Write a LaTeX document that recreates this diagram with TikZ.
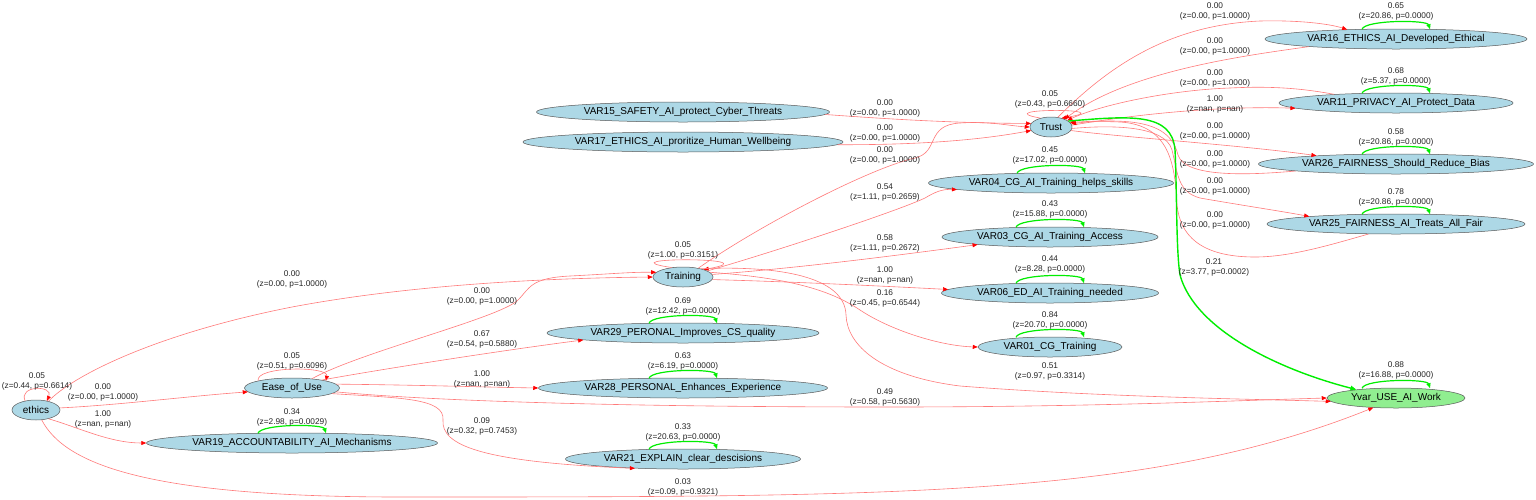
\documentclass[tikz,border=0pt]{standalone}
\usepackage{fontspec}
\setmainfont{Liberation Sans}
\usetikzlibrary{arrows.meta,shapes.geometric}
\definecolor{lightbluec}{HTML}{ADD8E6}
\definecolor{lightgreenc}{HTML}{90EE90}
\definecolor{redline}{HTML}{FF7A7A}
\definecolor{greenline}{HTML}{00EE00}
\newcommand{\mynodefont}{\fontsize{10pt}{12pt}\selectfont}
\newcommand{\mylabfont}{\fontsize{8.3pt}{10pt}\selectfont}
\newcommand{\greenloop}[1]{\draw[gloop] ([xshift=-34pt,yshift=-0.5pt]#1.north) .. controls ([xshift=-31pt,yshift=9pt]#1.north) and ([xshift=31pt,yshift=9pt]#1.north) .. ([xshift=34pt,yshift=-0.5pt]#1.north);}
\tikzset{
  nd/.style={ellipse, draw=black!65, line width=0.5pt, fill=lightbluec, inner sep=0pt, minimum height=20pt, font=\mynodefont, text=black},
  lab/.style={font=\mylabfont, align=center, text=black!85, inner sep=0pt},
  redge/.style={draw=redline, line width=0.6pt, -{Triangle[length=5pt,width=4pt,color=red]}},
  gloop/.style={draw=greenline, line width=1.2pt, -{Triangle[length=5pt,width=4pt,color=greenline]}},
  gedge/.style={draw=greenline, line width=1.4pt, -{Triangle[length=6pt,width=4.5pt,color=greenline]}}
}
\begin{document}
\begin{tikzpicture}[x=1pt,y=-1pt]
\fill[white] (0,0) rectangle (1536,499);
\useasboundingbox (0,0) rectangle (1536,499);

% nodes
\node[nd, minimum width=48pt] (ethics) at (36,410) {ethics};
\node[nd, minimum width=95pt] (ease) at (292,388) {Ease\_of\_Use};
\node[nd, minimum width=291pt] (v19) at (292,443) {VAR19\_ACCOUNTABILITY\_AI\_Mechanisms};
\node[nd, minimum width=60pt] (training) at (683,277) {Training};
\node[nd, minimum width=272pt] (v29) at (683,333) {VAR29\_PERONAL\_Improves\_CS\_quality};
\node[nd, minimum width=289pt] (v28) at (683,388) {VAR28\_PERSONAL\_Enhances\_Experience};
\node[nd, minimum width=235pt] (v21) at (683,459) {VAR21\_EXPLAIN\_clear\_descisions};
\node[nd, minimum width=293pt] (v15) at (683,112) {VAR15\_SAFETY\_AI\_protect\_Cyber\_Threats};
\node[nd, minimum width=320pt] (v17) at (683,142) {VAR17\_ETHICS\_AI\_proritize\_Human\_Wellbeing};
\node[nd, minimum width=42pt] (trust) at (1051,127) {Trust};
\node[nd, minimum width=245pt] (v04) at (1051,183) {VAR04\_CG\_AI\_Training\_helps\_skills};
\node[nd, minimum width=216pt] (v03) at (1050,237) {VAR03\_CG\_AI\_Training\_Access};
\node[nd, minimum width=217pt] (v06) at (1050,293) {VAR06\_ED\_AI\_Training\_needed};
\node[nd, minimum width=144pt] (v01) at (1050,347) {VAR01\_CG\_Training};
\node[nd, minimum width=262pt] (v16) at (1396,39) {VAR16\_ETHICS\_AI\_Developed\_Ethical};
\node[nd, minimum width=234pt] (v11) at (1396,103) {VAR11\_PRIVACY\_AI\_Protect\_Data};
\node[nd, minimum width=275pt] (v26) at (1396,164) {VAR26\_FAIRNESS\_Should\_Reduce\_Bias};
\node[nd, minimum width=258pt] (v25) at (1396,224) {VAR25\_FAIRNESS\_AI\_Treats\_All\_Fair};
\node[nd, fill=lightgreenc, minimum width=138pt] (yvar) at (1396,398) {Yvar\_USE\_AI\_Work};

% ethics edges
\draw[redge] (ethics.140) .. controls (18,385) and (54,385) .. (ethics.40);
\draw[redge] (ethics.5) .. controls (120,405) and (190,396) .. (ease.185);
\draw[redge] (ethics.-35) .. controls (80,428) and (110,443) .. (v19.west);
\draw[redge] (ethics.35) .. controls (70,378) and (150,335) .. (292,307) .. controls (420,283) and (560,278) .. (training.west);
\draw[redge] (ethics.-60) .. controls (65,465) and (150,497) .. (400,497) .. controls (900,497) and (1150,497) .. (yvar.203);

% Ease_of_Use edges
\draw[redge] (ease.168) .. controls (255,366) and (329,366) .. (ease.12);
\draw[redge] (ease.25) .. controls (360,352) and (500,318) .. (518,300) .. controls (530,288) and (530,278) .. (570,276) .. controls (610,274) and (630,272) .. (training.170);
\draw[redge] (ease.15) .. controls (400,366) and (520,348) .. (v29.184);
\draw[redge] (ease.5) .. controls (420,385) and (480,387) .. (v28.west);
\draw[redge] (ease.-5) .. controls (420,400) and (600,407) .. (890,407) .. controls (1100,407) and (1250,400) .. (yvar.west);
\draw[redge] (ease.-8) .. controls (400,398) and (445,398) .. (443,420) .. controls (441,445) and (480,462) .. (v21.191);

% Training edges
\draw[redge] (training.140) .. controls (600,257) and (775,257) .. (training.20);
\draw[redge] (training.30) .. controls (760,225) and (870,168) .. (915,158) .. controls (940,152) and (925,125) .. (960,123) .. controls (990,121) and (1010,126) .. (trust.west);
\draw[redge] (training.14) .. controls (780,250) and (900,210) .. (925,198) .. controls (935,192) and (942,189) .. (v04.184);
\draw[redge] (training.5) .. controls (800,268) and (900,255) .. (v03.186);
\draw[redge] (training.-5) .. controls (800,282) and (880,286) .. (v06.178);
\draw[redge] (training.10) .. controls (790,278) and (830,290) .. (860,310) .. controls (890,330) and (940,346) .. (v01.west);
\draw[redge] (training.25) .. controls (790,265) and (845,280) .. (846,315) .. controls (847,345) and (880,376) .. (960,386) .. controls (1100,397) and (1250,399) .. (yvar.183);

% VAR15 / VAR17 to Trust
\draw[redge] (v15.-1.5) .. controls (900,120) and (960,123) .. (trust.170);
\draw[redge] (v17.-1) .. controls (920,145) and (980,140) .. (trust.190);

% Trust edges
\draw[redge] (trust.140) .. controls (985,108) and (1125,108) .. (trust.40);
\draw[redge] (trust.55) .. controls (1110,65) and (1170,25) .. (1260,21) .. controls (1300,20) and (1330,24) .. (v16.169);
\draw[redge] (v16.185) .. controls (1250,55) and (1130,70) .. (trust.30);
\draw[redge] (v11.172) .. controls (1300,88) and (1270,86) .. (1230,88) .. controls (1170,90) and (1100,105) .. (trust.22);
\draw[redge] (trust.5) .. controls (1150,112) and (1230,106) .. (v11.183);
\draw[redge] (trust.-10) .. controls (1120,137) and (1240,145) .. (v26.174);
\draw[redge] (v26.184) .. controls (1250,175) and (1185,178) .. (1178,155) .. controls (1172,130) and (1150,121) .. (1110,121) .. controls (1090,121) and (1080,122) .. (trust.14);
\draw[redge] (trust.-4) .. controls (1110,125) and (1165,125) .. (1172,150) .. controls (1178,175) and (1178,192) .. (1200,198) .. controls (1240,205) and (1280,211) .. (v25.175);
\draw[redge] (v25.200) .. controls (1330,245) and (1290,257) .. (1255,257) .. controls (1200,257) and (1180,235) .. (1177,205) .. controls (1175,165) and (1170,125) .. (1120,122) .. controls (1095,121) and (1085,122) .. (trust.9);
\draw[gedge] (trust.19) .. controls (1130,116) and (1172,112) .. (1175,150) .. controls (1177,190) and (1176,250) .. (1180,275) .. controls (1195,330) and (1280,370) .. (yvar.168);

% green self loops
\greenloop{v19}
\greenloop{v29}
\greenloop{v28}
\greenloop{v21}
\greenloop{v04}
\greenloop{v03}
\greenloop{v06}
\greenloop{v01}
\greenloop{v16}
\greenloop{v11}
\greenloop{v26}
\greenloop{v25}
\greenloop{yvar}

% labels
\node[lab] (l01) at (37,381.5) {0.05\\(z=0.44, p=0.6614)};
\node[lab] (l02) at (103,392) {0.00\\(z=0.00, p=1.0000)};
\node[lab] (l03) at (103,419) {1.00\\(z=nan, p=nan)};
\node[lab] (l04) at (292,279) {0.00\\(z=0.00, p=1.0000)};
\node[lab] (l05) at (683,487) {0.03\\(z=0.09, p=0.9321)};
\node[lab] (l06) at (292,361) {0.05\\(z=0.51, p=0.6096)};
\node[lab] (l07) at (482,296) {0.00\\(z=0.00, p=1.0000)};
\node[lab] (l08) at (482,339) {0.67\\(z=0.54, p=0.5880)};
\node[lab] (l09) at (482,379) {1.00\\(z=nan, p=nan)};
\node[lab] (l10) at (482,426) {0.09\\(z=0.32, p=0.7453)};
\node[lab] (l11) at (885,397) {0.49\\(z=0.58, p=0.5630)};
\node[lab] (l12) at (292,417) {0.34\\(z=2.98, p=0.0029)};
\node[lab] (l13) at (683,306) {0.69\\(z=12.42, p=0.0000)};
\node[lab] (l14) at (683,361) {0.63\\(z=6.19, p=0.0000)};
\node[lab] (l15) at (683,432) {0.33\\(z=20.63, p=0.0000)};
\node[lab] (l16) at (683,250) {0.05\\(z=1.00, p=0.3151)};
\node[lab] (l17) at (885,108.5) {0.00\\(z=0.00, p=1.0000)};
\node[lab] (l18) at (885,133) {0.00\\(z=0.00, p=1.0000)};
\node[lab] (l19) at (885,155) {0.00\\(z=0.00, p=1.0000)};
\node[lab] (l20) at (885,192) {0.54\\(z=1.11, p=0.2659)};
\node[lab] (l21) at (885,243) {0.58\\(z=1.11, p=0.2672)};
\node[lab] (l22) at (885,275) {1.00\\(z=nan, p=nan)};
\node[lab] (l23) at (885,298) {0.16\\(z=0.45, p=0.6544)};
\node[lab] (l24) at (1050,371) {0.51\\(z=0.97, p=0.3314)};
\node[lab] (l25) at (1050,99) {0.05\\(z=0.43, p=0.6660)};
\node[lab] (l26) at (1050,155) {0.45\\(z=17.02, p=0.0000)};
\node[lab] (l27) at (1050,209) {0.43\\(z=15.88, p=0.0000)};
\node[lab] (l28) at (1050,264.5) {0.44\\(z=8.28, p=0.0000)};
\node[lab] (l29) at (1050,320) {0.84\\(z=20.70, p=0.0000)};
\node[lab] (l30) at (1215,11.5) {0.00\\(z=0.00, p=1.0000)};
\node[lab] (l31) at (1215,46) {0.00\\(z=0.00, p=1.0000)};
\node[lab] (l32) at (1215,78.5) {0.00\\(z=0.00, p=1.0000)};
\node[lab] (l33) at (1215,104) {1.00\\(z=nan, p=nan)};
\node[lab] (l34) at (1215,131) {0.00\\(z=0.00, p=1.0000)};
\node[lab] (l35) at (1215,159) {0.00\\(z=0.00, p=1.0000)};
\node[lab] (l36) at (1215,186) {0.00\\(z=0.00, p=1.0000)};
\node[lab] (l37) at (1215,220) {0.00\\(z=0.00, p=1.0000)};
\node[lab] (l38) at (1214,267) {0.21\\(z=3.77, p=0.0002)};
\node[lab] (l39) at (1396,11) {0.65\\(z=20.86, p=0.0000)};
\node[lab] (l40) at (1396,76) {0.68\\(z=5.37, p=0.0000)};
\node[lab] (l41) at (1396,137) {0.58\\(z=20.86, p=0.0000)};
\node[lab] (l42) at (1396,197) {0.78\\(z=20.86, p=0.0000)};
\node[lab] (l43) at (1396,370) {0.88\\(z=16.88, p=0.0000)};
\end{tikzpicture}
\end{document}
